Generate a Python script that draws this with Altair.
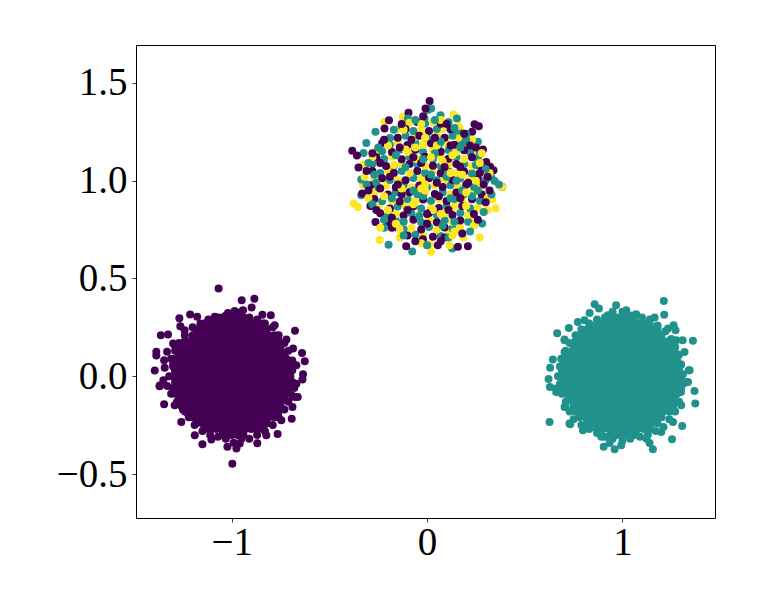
import altair as alt
import pandas as pd
from itertools import zip_longest

X_TICKS = [-1, 0, 1]
Y_TICKS = [-0.5, 0.0, 0.5, 1.0, 1.5]
CLASS_COLORS = ["#440154", "#21918c", "#fde725"]

# Left cluster: solid core, rows of (y values, x values)
LEFT_CORE = [
    ([0.0, 0.06, -0.06], [-1.30,-1.27,-1.24,-1.21,-1.18,-1.15,-1.12,-1.09,-1.06,-1.03,-1.0,-.97,-.94,-.91,-.88,-.85,-.82,-.79,-.76,-.73,-.70]),
    ([0.03, -0.03], [-1.29,-1.26,-1.23,-1.2,-1.17,-1.14,-1.11,-1.08,-1.05,-1.02,-.99,-.96,-.93,-.9,-.87,-.84,-.81,-.78,-.75,-.72,-.69]),
    ([0.09, -0.09], [-1.29,-1.26,-1.23,-1.2,-1.17,-1.14,-1.11,-1.08,-1.05,-1.02,-.99,-.96,-.93,-.9,-.87,-.84,-.81,-.78,-.75,-.72]),
    ([0.12, -0.12], [-1.27,-1.24,-1.21,-1.18,-1.15,-1.12,-1.09,-1.06,-1.03,-1.0,-.97,-.94,-.91,-.88,-.85,-.82,-.79,-.76,-.73]),
    ([0.15, -0.15], [-1.26,-1.23,-1.2,-1.17,-1.14,-1.11,-1.08,-1.05,-1.02,-.99,-.96,-.93,-.9,-.87,-.84,-.81,-.78,-.75]),
    ([0.18, -0.18], [-1.24,-1.21,-1.18,-1.15,-1.12,-1.09,-1.06,-1.03,-1.0,-.97,-.94,-.91,-.88,-.85,-.82,-.79,-.76]),
    ([0.21, -0.21], [-1.2,-1.17,-1.14,-1.11,-1.08,-1.05,-1.02,-.99,-.96,-.93,-.9,-.87,-.84,-.81,-.78]),
    ([0.24, -0.24], [-1.18,-1.15,-1.12,-1.09,-1.06,-1.03,-1.0,-.97,-.94,-.91,-.88,-.85,-.82]),
    ([0.27, -0.27], [-1.14,-1.11,-1.08,-1.05,-1.02,-.99,-.96,-.93,-.9,-.87,-.84]),
    ([0.30, -0.30], [-1.05,-1.02,-1.0,-.97,-.94]),
]
LEFT_RIM = [(-.70,.02),(-.69,.08),(-.71,.13),(-.73,.17),(-.76,.21),(-.79,.25),(-.83,.27),(-.87,.29),(-.91,.30),(-.95,.33),(-.99,.32),(-1.03,.31),(-1.07,.30),(-1.12,.29),(-1.16,.27),(-1.20,.25),(-1.24,.21),(-1.27,.17),(-1.29,.13),(-1.31,.09),(-1.30,.05),(-1.32,.00),(-1.33,-.05),(-1.31,-.09),(-1.28,-.13),(-1.25,-.17),(-1.22,-.21),(-1.19,-.25),(-1.15,-.28),(-1.11,-.30),(-1.07,-.31),(-1.03,-.32),(-.99,-.34),(-.95,-.32),(-.91,-.32),(-.87,-.30),(-.83,-.28),(-.79,-.25),(-.76,-.21),(-.73,-.17),(-.71,-.13),(-.69,-.10),(-.68,-.06),
 (-1.177,.304),(-1.087,.304),(-1.019,.324),(-.985,.334),(-.942,.338),(-.843,.315),(-.78,.261),(-.72,.188),(-.686,.142),(-.669,.056),(-.669,-.038),(-.678,-.106),(-.746,-.225),(-.823,-.302),(-.959,-.344),(-1.104,-.324),(-1.189,-.302),(-1.232,-.183),(-1.292,-.148),(-1.369,-.051),(-1.35,-.02),(-1.343,.044),(-1.30,.167),(-1.292,.159),(-1.241,.235)]
LEFT_OUTLIERS = [(-1.067,.449),(-.949,.389),(-.884,.396),(-.898,.352),(-1.268,.297),(-1.213,.316),(-.800,.312),(-.676,.232),(-1.363,.210),(-1.326,.213),(-1.263,.256),(-1.386,.125),(-1.386,.106),(-1.331,.125),(-.640,.119),(-.626,.077),(-1.394,.029),(-1.346,.082),(-1.369,-.048),(-.635,.010),(-.638,-.017),(-.662,-.106),(-1.346,-.143),(-.689,-.157),(-.693,-.218),(-1.258,-.234),(-.765,-.295),(-1.150,-.348),(-.869,-.343),(-1.022,-.360),(-.976,-.370),(-.997,-.447)]

# Right cluster
RIGHT_CORE = [
    ([0.0, 0.06, -0.06], [.70,.73,.76,.79,.82,.85,.88,.91,.94,.97,1.0,1.03,1.06,1.09,1.12,1.15,1.18,1.21,1.24,1.27,1.30]),
    ([0.03, -0.03], [.69,.72,.75,.78,.81,.84,.87,.9,.93,.96,.99,1.02,1.05,1.08,1.11,1.14,1.17,1.2,1.23,1.26,1.29]),
    ([0.09, -0.09], [.71,.74,.77,.8,.83,.86,.89,.92,.95,.98,1.01,1.04,1.07,1.1,1.13,1.16,1.19,1.22,1.25,1.28]),
    ([0.12, -0.12], [.73,.76,.79,.82,.85,.88,.91,.94,.97,1.0,1.03,1.06,1.09,1.12,1.15,1.18,1.21,1.24,1.27]),
    ([0.15, -0.15], [.75,.78,.81,.84,.87,.9,.93,.96,.99,1.02,1.05,1.08,1.11,1.14,1.17,1.2,1.23,1.26]),
    ([0.18, -0.18], [.76,.79,.82,.85,.88,.91,.94,.97,1.0,1.03,1.06,1.09,1.12,1.15,1.18,1.21,1.24]),
    ([0.21, -0.21], [.78,.81,.84,.87,.9,.93,.96,.99,1.02,1.05,1.08,1.11,1.14,1.17,1.2]),
    ([0.24, -0.24], [.82,.85,.88,.91,.94,.97,1.0,1.03,1.06,1.09,1.12,1.15,1.18]),
    ([0.27, -0.27], [.87,.9,.93,.96,.99,1.02,1.05,1.08,1.11,1.14]),
    ([0.30, -0.30], [.94,.97,1.0,1.03,1.06]),
]
RIGHT_RIM = [(1.31,.01),(1.30,.06),(1.29,.11),(1.27,.15),(1.25,.19),(1.22,.23),(1.18,.26),(1.14,.29),(1.10,.30),(1.05,.31),(1.00,.33),(.95,.33),(.91,.30),(.87,.29),(.83,.27),(.79,.24),(.76,.21),(.73,.17),(.71,.13),(.69,.09),(.68,.05),(.67,.00),(.68,-.04),(.69,-.09),(.71,-.13),(.73,-.18),(.75,-.22),(.79,-.25),(.83,-.27),(.87,-.29),(.91,-.31),(.95,-.32),(1.00,-.33),(1.04,-.32),(1.09,-.31),(1.13,-.30),(1.17,-.28),(1.21,-.26),(1.24,-.22),(1.27,-.18),(1.29,-.13),(1.30,-.08),(1.31,-.04),
 (1.02,.338),(1.071,.317),(1.165,.30),(1.233,.244),(1.276,.184),(1.318,.124),(1.34,.031),(1.327,-.029),(1.301,-.148),(1.259,-.234),(1.199,-.285),(1.122,-.319),(.994,-.353),(.892,-.31),(.798,-.276),(.729,-.242),(.704,-.157),(.661,-.063),(.687,.09),(.704,.184),(.806,.286),(.926,.312)]
RIGHT_OUTLIERS = [(1.212,.385),(1.214,.314),(.858,.368),(.880,.346),(.832,.324),(.772,.278),(.726,.247),(.666,.220),(.704,.188),(1.361,.181),(1.308,.184),(1.262,.261),(1.272,.235),(.644,.085),(.630,.043),(.622,-.014),(.629,-.055),(1.369,-.075),(1.373,-.140),(.627,-.234),(.733,-.246),(1.306,-.254),(1.254,-.322),(.904,-.360),(.960,-.373),(.934,-.341),(1.156,-.373),(.968,.363),(.704,.124),(.661,-.080),(.709,-.157),(1.139,-.341),(1.344,.031),(1.336,-.029)]

# Centre cluster, mixed classes
CENTRE_PURPLE = [(.385,.968),(.013,1.408),(-.008,1.369),(-.095,1.347),(-.195,1.309),(-.218,1.267),(-.383,1.153),(-.359,1.129),(-.351,1.067),(.243,1.289),(.265,1.279),(.231,1.250),(.132,1.250),(.323,1.071),(.340,1.054),(-.264,.789),(-.107,.665),(.209,.665),(.158,.662),(.055,.670),(-.021,.701),(.303,1.096),(.286,1.159),(-.332,.934),
 (-.10,.72),(.03,.713),(-.16,.762),(-.03,.75),(.09,.761),(-.20,.786),(-.07,.80),(.05,.788),(.17,.797),(-.24,.833),(-.12,.822),(.01,.835),(.13,.824),(.24,.83),(-.19,.858),(-.07,.869),(.06,.86),(.18,.87),(-.27,.906),(-.14,.894),(-.02,.904),(.10,.896),(.23,.905),(-.20,.93),(-.09,.941),(.04,.932),(.15,.94),(.28,.93),(-.29,.977),(-.16,.966),(-.04,.975),(.08,.968),(.20,.979),(-.23,1.012),(-.11,1.002),(.01,1.013),(.13,1.004),(.26,1.01),(-.28,1.049),(-.17,1.04),(-.05,1.05),(.07,1.038),(.19,1.047),(-.21,1.075),(-.09,1.086),(.03,1.076),(.15,1.085),(.27,1.078),(-.26,1.12),(-.13,1.11),(-.01,1.122),(.11,1.112),(.23,1.12),(-.18,1.147),(-.06,1.158),(.07,1.148),(.19,1.156),(-.23,1.193),(-.10,1.182),(.02,1.192),(.14,1.184),(-.15,1.22),(-.04,1.23),(.09,1.22),(.20,1.228),(-.11,1.265),(.01,1.254),(.12,1.263),(-.05,1.30),(.07,1.291),
 (-.29,.87),(-.18,.81),(.11,.85),(.29,.98),(-.13,.93),(.05,.99),(-.24,1.09),(.17,1.07),(-.08,1.21),(.22,1.18),(.0,.78),(.09,.71),
 (.31,1.02),(.25,1.17),(.19,1.24),(.10,1.29),(-.02,1.33),(-.13,1.29),(-.22,1.21),(-.28,1.14),(-.31,1.05),(-.30,.95),(-.26,.85),(-.18,.76),(-.06,.69),(.07,.69),(.18,.73),(.26,.80),(.30,.89),(.32,.95),
 (-.15,.98),(.06,.92),(-.03,1.09),(.12,1.18),(-.19,1.02),(.21,.99),(.0,.83),(-.10,.85),(.17,.91),(-.07,1.12),(.27,1.04),(.09,1.07),(-.14,1.17),(.04,1.22),(-.24,.96)]
CENTRE_TEAL = [(.021,1.369),(.004,1.361),(.069,1.335),(.153,1.318),(-.264,1.250),(-.311,1.193),(-.325,1.142),(-.337,1.006),(-.337,.926),(-.197,.673),(-.076,.638),(.129,.653),(.282,.781),(.346,.999),(.368,.980),(.260,1.199),(-.013,1.318),(-.098,1.318),(.329,1.016),
 (-.06,.725),(.07,.717),(-.12,.752),(.01,.763),(.13,.755),(-.16,.797),(-.03,.787),(.09,.798),(.21,.79),(-.20,.823),(-.08,.834),(.05,.825),(.17,.835),(-.15,.868),(-.03,.858),(.10,.87),(.22,.859),(-.23,.895),(-.10,.906),(.02,.897),(.14,.907),(.27,.897),(-.16,.941),(-.05,.931),(.08,.94),(.19,.931),(-.25,.967),(-.12,.978),(0.0,.966),(.12,.977),(.24,.968),(-.19,1.003),(-.07,1.014),(.05,1.002),(.17,1.013),(.30,1.003),(-.24,1.039),(-.13,1.05),(-.01,1.04),(.11,1.05),(.23,1.038),(-.28,1.086),(-.17,1.075),(-.05,1.085),(.07,1.074),(.19,1.086),(-.22,1.111),(-.09,1.122),(.03,1.11),(.15,1.121),(.26,1.112),(-.14,1.158),(-.02,1.147),(.11,1.157),(.22,1.146),(-.19,1.182),(-.06,1.193),(.06,1.183),(.18,1.192),(-.11,1.23),(0.0,1.219),(.13,1.23),(-.19,1.219),(-.07,1.254),(.05,1.265),(.16,1.255),(-.01,1.292),(.11,1.30),
 (-.22,.76),(.14,.79),(-.02,.92),(.18,.95),(-.26,.99),(.10,1.02),(-.11,1.07),(.25,1.08),(.04,1.14),(-.16,1.13),(.20,1.24),(-.13,1.28),
 (.30,1.06),(.27,1.14),(.20,1.21),(.14,1.27),(.04,1.31),(-.06,1.31),(-.17,1.26),(-.25,1.17),(-.30,1.09),(-.31,.98),(-.28,.88),(-.22,.80),(-.12,.72),(.0,.67),(.11,.71),(.22,.74),(.29,.84),(.33,.93),
 (-.07,.95),(.15,1.0),(-.18,.91),(.02,1.03),(.23,.92),(-.12,.79),(.08,.77),(-.23,1.15),(.17,1.17),(-.02,1.11),(.12,.91),(.26,.95),(-.27,1.03),(.07,1.2),(-.04,.82)]
CENTRE_YELLOW = [(.136,1.338),(-.124,1.326),(-.218,1.301),(-.325,1.083),(-.328,.980),(-.376,.883),(-.354,.866),(-.243,.697),(.021,.636),(.269,.709),(.385,.968),(.351,.859),(.308,.849),(.334,.904),(.187,.709),(.115,.670),(.269,1.105),(.013,.675),
 (-.02,.718),(.11,.726),(-.08,.758),(.05,.749),(.17,.76),(-.12,.79),(.01,.799),(.13,.789),(.24,.80),(-.16,.828),(-.04,.822),(.09,.835),(.21,.826),(-.25,.862),(-.11,.87),(.02,.859),(.14,.868),(.26,.862),(-.18,.90),(-.06,.893),(.06,.906),(.18,.896),(-.27,.94),(-.12,.933),(-.01,.942),(.12,.931),(.24,.94),(-.21,.975),(-.08,.966),(.04,.977),(.16,.967),(.28,.976),(-.27,1.01),(-.15,1.002),(-.03,1.012),(.09,1.003),(.22,1.012),(-.20,1.05),(-.09,1.039),(.03,1.049),(.15,1.04),(.28,1.048),(-.13,1.086),(-.01,1.076),(.11,1.084),(.23,1.075),(-.18,1.122),(-.05,1.11),(.07,1.121),(.19,1.111),(-.26,1.15),(-.10,1.147),(.03,1.157),(.15,1.147),(.24,1.158),(-.15,1.193),(-.02,1.182),(.10,1.192),(.21,1.183),(-.07,1.219),(.05,1.23),(.16,1.22),(-.15,1.263),(-.03,1.256),(.08,1.265),(.17,1.262),(-.09,1.296),(.03,1.30),
 (-.03,.96),(-.01,.98),(-.14,.75),(.03,.85),(.20,.87),(-.22,.92),(.08,1.10),(-.28,1.12),(-.06,1.17),(.13,1.13),(-.01,1.22),(.25,1.00),
 (.32,1.04),(.23,1.21),(.16,1.28),(.07,1.31),(-.03,1.29),(-.12,1.26),(-.20,1.18),(-.32,1.02),(-.30,.91),(-.24,.76),(-.14,.71),(-.03,.68),(.14,.74),(.24,.77),(.31,.91),(.28,1.14),
 (-.01,.95),(-.13,.96),(.12,1.04),(.02,1.12),(-.17,1.08),(.18,1.03),(-.07,.88),(.07,.83),(.20,.94),(-.20,.85),(.05,1.18),(-.11,1.16),(.27,1.09),(-.16,.78),(.13,.72)]

rows = []
def add(x, y, c):
    rows.append({"x": x, "y": y, "c": c})

for core, rim, outliers, cls in [(LEFT_CORE, LEFT_RIM, LEFT_OUTLIERS, 0), (RIGHT_CORE, RIGHT_RIM, RIGHT_OUTLIERS, 1)]:
    for ys, xs in core:
        for y in ys:
            for x in xs:
                add(x, y, cls)
    for x, y in rim + outliers:
        add(x, y, cls)

for triple in zip_longest(CENTRE_PURPLE, CENTRE_TEAL, CENTRE_YELLOW):
    for cls, p in enumerate(triple):
        if p is not None:
            add(p[0], p[1], cls)

df = pd.DataFrame(rows)

FONT = "Liberation Serif"
chart = (
    alt.Chart(df)
    .mark_circle(size=64, opacity=1, clip=False)
    .encode(
        x=alt.X("x:Q", title=None,
                scale=alt.Scale(domain=[-1.49, 1.474], nice=False, zero=False),
                axis=alt.Axis(values=X_TICKS, format="d", grid=False, domain=False, tickSize=4,
                              tickWidth=0.8, tickColor="#000", labelFont=FONT, labelFontSize=39,
                              labelColor="#000", labelPadding=1, labelOverlap=False, labelFlush=False)),
        y=alt.Y("y:Q", title=None,
                scale=alt.Scale(domain=[-0.725, 1.694], nice=False, zero=False),
                axis=alt.Axis(values=Y_TICKS, format=".1f", grid=False, domain=False, tickSize=4,
                              tickWidth=0.8, tickColor="#000", labelFont=FONT, labelFontSize=39,
                              labelColor="#000", labelPadding=5, labelOverlap=False, labelFlush=False)),
        color=alt.Color("c:N", legend=None,
                        scale=alt.Scale(domain=[0, 1, 2], range=CLASS_COLORS)),
    )
    .properties(width=579, height=473,
                autosize=alt.AutoSizeParams(type="none"),
                padding={"left": 128, "top": 37, "right": 30, "bottom": 70},
                background="white")
    .configure_view(stroke="#000", strokeWidth=1)
)

chart.save("out.html", embed_options={"renderer": "svg", "actions": False})
